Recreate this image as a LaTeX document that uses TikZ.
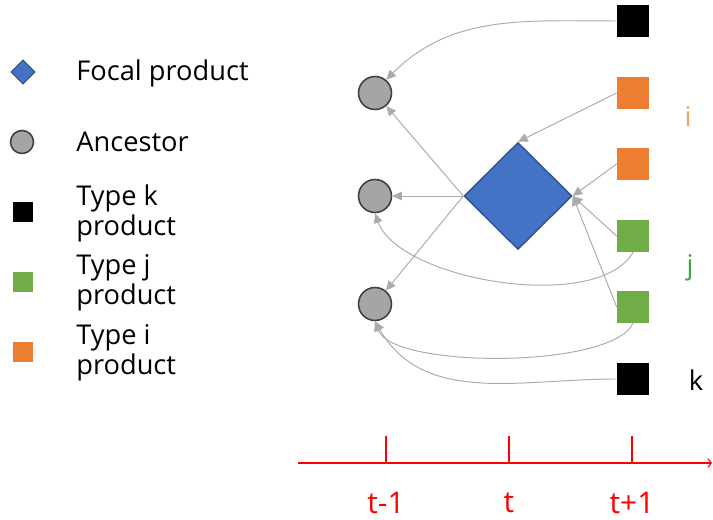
\documentclass[tikz,border=0pt]{standalone}
\usepackage{fontspec}
\setmainfont{Open Sans}
\usetikzlibrary{arrows.meta,shapes.geometric}
\definecolor{focalblue}{HTML}{4472C4}
\definecolor{focaledge}{HTML}{2F528F}
\definecolor{ancgray}{HTML}{A5A5A5}
\definecolor{ancedge}{HTML}{404040}
\definecolor{typei}{HTML}{ED7D31}
\definecolor{typej}{HTML}{70AD47}
\definecolor{labi}{HTML}{F5A35C}
\definecolor{labj}{HTML}{3AA53A}
\definecolor{linkgray}{HTML}{ABABAB}
\tikzset{
  link/.style={-{Triangle[length=5.5pt,width=5pt]}, line width=0.55pt, draw=linkgray},
  prod/.style={rectangle, draw=none, inner sep=0pt, minimum size=0.64cm},
  anc/.style={circle, draw=ancedge, line width=0.9pt, fill=ancgray, inner sep=0pt, minimum size=0.66cm},
  legtext/.style={anchor=west, inner sep=0pt, align=left, font=\fontsize{15.5}{17}\selectfont},
}

\begin{document}
\begin{tikzpicture}[
  x=0.02cm, y=0.02cm,
  timeax/.style={draw=red, line width=0.6pt},
  timelab/.style={text=red, font=\fontsize{17}{19}\selectfont},
]
  \useasboundingbox (0,0) rectangle (713,520);
  % legend
  \node[diamond, draw=focaledge, fill=focalblue, line width=0.6pt, inner sep=0pt, minimum size=0.48cm] (lfp) at (23,448) {};
  \node[anc, minimum size=0.46cm] (lanc) at (22,378) {};
  \node[prod, fill=black, minimum size=0.4cm] (lk) at (23,308) {};
  \node[prod, fill=typej, minimum size=0.4cm] (lj) at (23,238) {};
  \node[prod, fill=typei, minimum size=0.4cm] (li) at (23,168) {};
  \node[legtext] (tfp) at (76,447) {Focal product};
  \node[legtext] (tanc) at (76,378) {Ancestor};
  \node[legtext] (tk) at (76,307) {Type k\\product};
  \node[legtext] (tj) at (76,237) {Type j\\product};
  \node[legtext] (ti) at (76,167) {Type i\\product};

  % products at t+1
  \node[prod, fill=black] (k1) at (633,499) {};
  \node[prod, fill=typei] (i1) at (633,427) {};
  \node[prod, fill=typei] (i2) at (633,356) {};
  \node[prod, fill=typej] (j1) at (633,284) {};
  \node[prod, fill=typej] (j2) at (633,213) {};
  \node[prod, fill=black] (k2) at (633,141) {};
  \node[text=labi, font=\fontsize{15.5}{17}\selectfont] (ni) at (688,403) {i};
  \node[text=labj, font=\fontsize{15.5}{17}\selectfont] (nj) at (690,252) {j};
  \node[font=\fontsize{15.5}{17}\selectfont] (nk) at (696,140) {k};

  % focal product and ancestors
  \node[diamond, draw=focaledge, fill=focalblue, line width=0.8pt, inner sep=0pt, minimum width=2.16cm, minimum height=2.14cm] (fp) at (518,324) {};
  \node[anc] (a1) at (375,427) {};
  \node[anc] (a2) at (375,324) {};
  \node[anc] (a3) at (375,216) {};

  \draw[link] (k1.west) to[out=180,in=45] (a1.50);
  \draw[link] (i1.west) -- (fp.north);
  \foreach \s in {i2,j1,j2}
    \draw[link] (\s.west) -- (fp.east);
  \foreach \a in {a1,a2,a3}
    \draw[link] (fp.west) -- (\a);
  \draw[link] (j1.south) to[out=-120,in=-70,looseness=0.7] (a2.south);
  \draw[link] (j2.south) to[out=-115,in=-70,looseness=0.5] (a3.south);
  \draw[link] (k2.west) to[out=180,in=-60] (a3.south);

  % time axis
  \coordinate (ax0) at (298,57);
  \coordinate (ax1) at (712,57);
  \draw[timeax, -{Straight Barb[length=2pt,width=5pt]}] (ax0) -- (ax1);
  \foreach \x/\n/\t in {386/tm/t-1, 509/tc/t, 632/tp/t+1}{
    \draw[timeax] (\x,57) -- (\x,84);
    \node[timelab] (\n) at (\x,17) {\t};
  }
\end{tikzpicture}
\end{document}
